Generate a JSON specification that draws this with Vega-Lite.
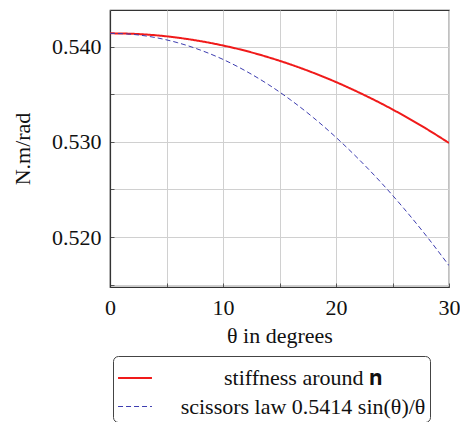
{
  "$schema": "https://vega.github.io/schema/vega-lite/v6.json",
  "width": 339,
  "height": 277,
  "autosize": {"type": "none"},
  "padding": {"left": 110, "top": 10, "right": 11, "bottom": 135},
  "background": "white",
  "config": {
    "font": "Liberation Serif",
    "axis": {"labelFont": "Liberation Serif", "titleFont": "Liberation Serif"},
    "legend": {"labelFont": "Liberation Serif"},
    "view": {"stroke": "#333333", "strokeWidth": 1.2}
  },
  "data": {
    "values": [
      {"theta": 0, "value": 0.5414, "series": "stiffness around 𝐧"},
      {"theta": 2, "value": 0.54135, "series": "stiffness around 𝐧"},
      {"theta": 4, "value": 0.5412, "series": "stiffness around 𝐧"},
      {"theta": 6, "value": 0.54094, "series": "stiffness around 𝐧"},
      {"theta": 8, "value": 0.54058, "series": "stiffness around 𝐧"},
      {"theta": 10, "value": 0.54012, "series": "stiffness around 𝐧"},
      {"theta": 12, "value": 0.53956, "series": "stiffness around 𝐧"},
      {"theta": 14, "value": 0.53889, "series": "stiffness around 𝐧"},
      {"theta": 16, "value": 0.53812, "series": "stiffness around 𝐧"},
      {"theta": 18, "value": 0.53725, "series": "stiffness around 𝐧"},
      {"theta": 20, "value": 0.53628, "series": "stiffness around 𝐧"},
      {"theta": 22, "value": 0.5352, "series": "stiffness around 𝐧"},
      {"theta": 24, "value": 0.53403, "series": "stiffness around 𝐧"},
      {"theta": 26, "value": 0.53275, "series": "stiffness around 𝐧"},
      {"theta": 28, "value": 0.53137, "series": "stiffness around 𝐧"},
      {"theta": 30, "value": 0.52988, "series": "stiffness around 𝐧"},
      {"theta": 0, "value": 0.5414, "series": "scissors law 0.5414 sin(θ)/θ"},
      {"theta": 2, "value": 0.54129, "series": "scissors law 0.5414 sin(θ)/θ"},
      {"theta": 4, "value": 0.54096, "series": "scissors law 0.5414 sin(θ)/θ"},
      {"theta": 6, "value": 0.54041, "series": "scissors law 0.5414 sin(θ)/θ"},
      {"theta": 8, "value": 0.53964, "series": "scissors law 0.5414 sin(θ)/θ"},
      {"theta": 10, "value": 0.53866, "series": "scissors law 0.5414 sin(θ)/θ"},
      {"theta": 12, "value": 0.53745, "series": "scissors law 0.5414 sin(θ)/θ"},
      {"theta": 14, "value": 0.53603, "series": "scissors law 0.5414 sin(θ)/θ"},
      {"theta": 16, "value": 0.53439, "series": "scissors law 0.5414 sin(θ)/θ"},
      {"theta": 18, "value": 0.53254, "series": "scissors law 0.5414 sin(θ)/θ"},
      {"theta": 20, "value": 0.53047, "series": "scissors law 0.5414 sin(θ)/θ"},
      {"theta": 22, "value": 0.52819, "series": "scissors law 0.5414 sin(θ)/θ"},
      {"theta": 24, "value": 0.52571, "series": "scissors law 0.5414 sin(θ)/θ"},
      {"theta": 26, "value": 0.52301, "series": "scissors law 0.5414 sin(θ)/θ"},
      {"theta": 28, "value": 0.52011, "series": "scissors law 0.5414 sin(θ)/θ"},
      {"theta": 30, "value": 0.517, "series": "scissors law 0.5414 sin(θ)/θ"}
    ]
  },
  "mark": {"type": "line", "interpolate": "monotone", "clip": true},
  "encoding": {
    "x": {
      "field": "theta", "type": "quantitative",
      "scale": {"domain": [0, 30], "nice": false, "zero": false},
      "axis": {
        "title": "θ in degrees",
        "values": [0, 5, 10, 15, 20, 25, 30],
        "labelExpr": "datum.value % 10 == 0 ? datum.value : ''",
        "labelFontSize": 22, "labelColor": "#111", "labelPadding": 14,
        "labelFlush": false,
        "tickSize": -4, "tickColor": "#555",
        "grid": true, "gridColor": "#d0d0d0", "gridWidth": 1,
        "domainColor": "#333333", "domainWidth": 1.2,
        "titleFontSize": 22, "titleFontWeight": "normal", "titleColor": "#111",
        "titlePadding": 7
      }
    },
    "y": {
      "field": "value", "type": "quantitative",
      "scale": {"domain": [0.51475, 0.54385], "nice": false, "zero": false},
      "axis": {
        "title": "N.m/rad",
        "values": [0.515, 0.52, 0.525, 0.53, 0.535, 0.54],
        "labelExpr": "round(datum.value * 1000) % 10 == 0 ? format(datum.value, '.3f') : ''",
        "labelFontSize": 22, "labelColor": "#111", "labelPadding": 13,
        "tickSize": -4, "tickColor": "#555",
        "grid": true, "gridColor": "#d0d0d0", "gridWidth": 1,
        "domainColor": "#333333", "domainWidth": 1.2,
        "titleFontSize": 22, "titleFontWeight": "normal", "titleColor": "#111",
        "titlePadding": 17
      }
    },
    "color": {
      "field": "series", "type": "nominal",
      "scale": {"domain": ["stiffness around 𝐧", "scissors law 0.5414 sin(θ)/θ"], "range": ["#f01a1a", "#3d3db0"]},
      "legend": {
        "title": null,
        "orient": "none", "legendX": 3, "legendY": 346,
        "fillColor": "white", "strokeColor": "#444444", "cornerRadius": 5,
        "padding": 4,
        "symbolType": "stroke", "symbolSize": 1150, "symbolStrokeWidth": 1.6,
        "labelFontSize": 22, "labelColor": "#111", "labelAlign": "center", "labelOffset": 150,
        "labelLimit": 400, "rowPadding": 0
      }
    },
    "strokeDash": {
      "field": "series", "type": "nominal",
      "scale": {"domain": ["stiffness around 𝐧", "scissors law 0.5414 sin(θ)/θ"], "range": [[1, 0], [5, 3]]},
      "legend": null
    },
    "strokeWidth": {
      "field": "series", "type": "nominal",
      "scale": {"domain": ["stiffness around 𝐧", "scissors law 0.5414 sin(θ)/θ"], "range": [2, 1]},
      "legend": null
    }
  }
}
